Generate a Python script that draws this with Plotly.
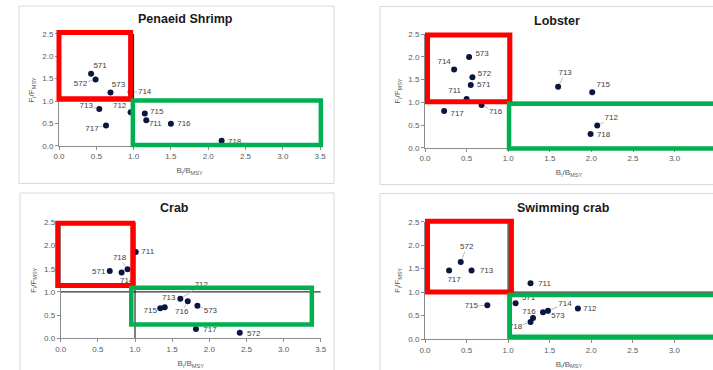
import math
import plotly.graph_objects as go

# ---------------- data ----------------
shrimp_codes = ["571", "572", "573", "714", "713", "712", "717", "715", "711", "716", "718"]
shrimp_b = [0.43, 0.49, 0.69, 0.96, 0.54, 0.96, 0.63, 1.15, 1.17, 1.50, 2.18]
shrimp_f = [1.61, 1.48, 1.19, 1.20, 0.82, 0.75, 0.45, 0.72, 0.57, 0.49, 0.11]

lobster_codes = ["573", "714", "572", "571", "711", "717", "716", "713", "715", "712", "718"]
lobster_b = [0.53, 0.35, 0.57, 0.55, 0.50, 0.23, 0.68, 1.60, 2.01, 2.07, 1.99]
lobster_f = [2.00, 1.72, 1.55, 1.38, 1.07, 0.81, 0.94, 1.34, 1.22, 0.49, 0.30]

crab_codes = ["711", "718", "571", "714", "713", "712", "716", "573", "715", "717", "572"]
crab_b = [1.01, 0.90, 0.66, 0.82, 1.40, 1.61, 1.71, 1.84, 1.34, 1.82, 2.41]
crab_f = [1.86, 1.49, 1.45, 1.42, 0.67, 0.85, 0.80, 0.70, 0.645, 0.20, 0.12]

swim_codes = ["572", "717", "713", "711", "715", "571", "716", "718", "573", "714", "712"]
swim_b = [0.43, 0.29, 0.56, 1.27, 0.75, 1.09, 1.30, 1.27, 1.42, 1.48, 1.84]
swim_f = [1.64, 1.46, 1.46, 1.19, 0.72, 0.76, 0.45, 0.36, 0.57, 0.60, 0.65]

tick_vals_x = [0.0, 0.5, 1.0, 1.5, 2.0, 2.5, 3.0, 3.5]
tick_vals_y = [0.0, 0.5, 1.0, 1.5, 2.0, 2.5]

# ---------------- styling ----------------
W, H = 713, 370
FONT = "Liberation Sans, Arial, sans-serif"

# label offsets in px (dx right, dy up, leader line?)
shrimp_lab = {"571": (9, 8, False), "572": (-15, -4, True), "573": (8, 7, False),
              "714": (14, 0, True), "713": (-13, 3, True), "712": (-11, 6, False),
              "717": (-14, -3, True), "715": (12, 2, False), "711": (9, -4, False),
              "716": (13, 0, False), "718": (13, -1, False)}
lobster_lab = {"573": (13, 3, False), "714": (-10, 8, False), "572": (12, 3, False),
               "571": (13, 0, False), "711": (-12, 8, False), "717": (13, -3, False),
               "716": (14, -7, True), "713": (7, 14, True), "715": (11, 7, False),
               "712": (14, 7, True), "718": (13, -1, False)}
crab_lab = {"711": (12, 0, False), "718": (-8, 11, True), "571": (-11, -1, False),
            "714": (5, -9, False), "713": (4, 9, False), "712": (21, 14, True),
            "716": (-6, -11, True), "573": (13, -5, True), "715": (-10, -3, False),
            "717": (14, -1, False), "572": (14, -1, False)}
swim_lab = {"572": (6, 15, True), "717": (5, -9, False), "713": (15, 0, False),
            "711": (14, -1, False), "715": (-16, -1, True), "571": (13, 5, False),
            "716": (-4, 6, False), "718": (-15, -5, True), "573": (15, -4, True),
            "714": (17, 7, True), "712": (12, 0, False)}

panels = [
    dict(title="Penaeid Shrimp", codes=shrimp_codes, b=shrimp_b, f=shrimp_f, lab=shrimp_lab,
         ox=59, oy=145.7, sx=74.6, sy=44.7, xmax=3.5,
         red=(0.0, 0.96, 1.05, 2.53), green=(0.99, 3.51, 0.015, 1.01),
         tpos=(185, 18.7), frame=(19, 6, 334, 183.5)),
    dict(title="Lobster", codes=lobster_codes, b=lobster_b, f=lobster_f, lab=lobster_lab,
         ox=425, oy=147.7, sx=83.2, sy=45.4, xmax=(713 - 425) / 83.2,
         red=(0.03, 1.02, 1.01, 2.48), green=(1.01, 3.8, -0.02, 0.97),
         tpos=(557, 20.7), frame=(380, 6.5, 720, 184.5)),
    dict(title="Crab", codes=crab_codes, b=crab_b, f=crab_f, lab=crab_lab,
         ox=60.7, oy=338.3, sx=74.3, sy=46.4, xmax=3.5,
         red=(-0.04, 0.97, 1.14, 2.48), green=(0.95, 3.38, 0.30, 1.09),
         tpos=(174, 207.7), frame=(20, 193, 334, 375)),
    dict(title="Swimming crab", codes=swim_codes, b=swim_b, f=swim_f, lab=swim_lab,
         ox=425, oy=339, sx=83.1, sy=46.9, xmax=(713 - 425) / 83.1,
         red=(0.03, 1.04, 1.0, 2.51), green=(1.02, 3.8, 0.05, 0.94),
         tpos=(563.5, 208.3), frame=(380, 193.5, 720, 375)),
]

fig = go.Figure()
layout = dict(width=W, height=H, margin=dict(l=0, r=0, t=0, b=0),
              paper_bgcolor="white", plot_bgcolor="white", showlegend=False,
              font=dict(family=FONT, size=8, color="#595959"))
shapes, annotations = [], []

for i, p in enumerate(panels, start=1):
    xa = "x" if i == 1 else f"x{i}"
    ya = "y" if i == 1 else f"y{i}"
    xk = "xaxis" if i == 1 else f"xaxis{i}"
    yk = "yaxis" if i == 1 else f"yaxis{i}"
    ox, oy, sx, sy, xmax = p["ox"], p["oy"], p["sx"], p["sy"], p["xmax"]
    xdom = [ox / W, min(1.0, (ox + xmax * sx) / W)]
    ydom = [1 - oy / H, 1 - (oy - 2.5 * sy) / H]

    axis_common = dict(showline=True, linecolor="#8c8c8c", linewidth=1, ticks="outside",
                       ticklen=3, tickcolor="#8c8c8c", showgrid=False, zeroline=False,
                       tickformat=".1f", tickfont=dict(size=8, color="#595959", family=FONT),
                       automargin=False, fixedrange=True)
    layout[xk] = dict(axis_common, domain=xdom, range=[0, xmax], anchor=ya,
                      tickvals=tick_vals_x,
                      title=dict(text="B<sub>i</sub>/B<sub>MSY</sub>", standoff=7,
                                 font=dict(size=8, color="#595959")))
    layout[yk] = dict(axis_common, domain=ydom, range=[0, 2.5], anchor=xa,
                      tickvals=tick_vals_y,
                      title=dict(text="F<sub>i</sub>/F<sub>MSY</sub>", standoff=6,
                                 font=dict(size=8, color="#595959")))

    # reference lines at 1.0
    shapes.append(dict(type="line", xref=xa, yref=ya, x0=1, x1=1, y0=0, y1=2.5,
                       line=dict(color="#000000", width=1), layer="below"))
    shapes.append(dict(type="line", xref=xa, yref=ya, x0=0, x1=min(3.5, xmax), y0=1, y1=1,
                       line=dict(color="#000000", width=1), layer="below"))

    # leader lines
    lx, ly = [], []
    tx, ty = [], []
    for c, bv, fv in zip(p["codes"], p["b"], p["f"]):
        dx, dy, lead = p["lab"][c]
        tx.append(bv + dx / sx)
        ty.append(fv + dy / sy)
        if lead:
            d = math.hypot(dx, dy)
            ux, uy = dx / d, dy / d
            t_edge = min(7.5 / abs(ux) if ux else 1e9, 4.5 / abs(uy) if uy else 1e9)
            s, e = 3.5, d - t_edge
            if e - s > 1:
                lx += [bv + ux * s / sx, bv + ux * e / sx, None]
                ly += [fv + uy * s / sy, fv + uy * e / sy, None]
    if lx:
        fig.add_trace(go.Scatter(x=lx, y=ly, mode="lines", xaxis=xa, yaxis=ya,
                                 line=dict(color="#a6a6a6", width=0.8), hoverinfo="skip",
                                 cliponaxis=False))
    fig.add_trace(go.Scatter(x=p["b"], y=p["f"], mode="markers", xaxis=xa, yaxis=ya,
                             marker=dict(size=6, color="#0b1640"), cliponaxis=False))
    fig.add_trace(go.Scatter(x=tx, y=ty, text=p["codes"], mode="text", xaxis=xa, yaxis=ya,
                             textposition="middle center", cliponaxis=False,
                             textfont=dict(size=8, color="#404040", family=FONT)))

    # red and green boxes (domain refs -> not clipped)
    for key, col, lw in (("red", "#ff0000", 5), ("green", "#00b050", 4.5)):
        x0, x1, y0, y1 = p[key]
        shapes.append(dict(type="rect", xref=f"{xa} domain", yref=f"{ya} domain",
                           x0=x0 / xmax, x1=x1 / xmax, y0=y0 / 2.5, y1=y1 / 2.5,
                           line=dict(color=col, width=lw), layer="above"))

    # chart frame
    fx0, fy0, fx1, fy1 = p["frame"]
    shapes.append(dict(type="rect", xref="paper", yref="paper",
                       x0=fx0 / W, x1=fx1 / W, y0=1 - fy1 / H, y1=1 - fy0 / H,
                       line=dict(color="#d9d9d9", width=1), layer="below"))

    cx, cy = p["tpos"]
    annotations.append(dict(text=f"<b>{p['title']}</b>", xref="paper", yref="paper",
                            x=cx / W, y=1 - cy / H, xanchor="center", yanchor="middle",
                            showarrow=False, font=dict(size=12.5, color="#1a1a1a", family=FONT)))

layout["shapes"] = shapes
layout["annotations"] = annotations
fig.update_layout(**layout)
fig.write_html("out.html")
